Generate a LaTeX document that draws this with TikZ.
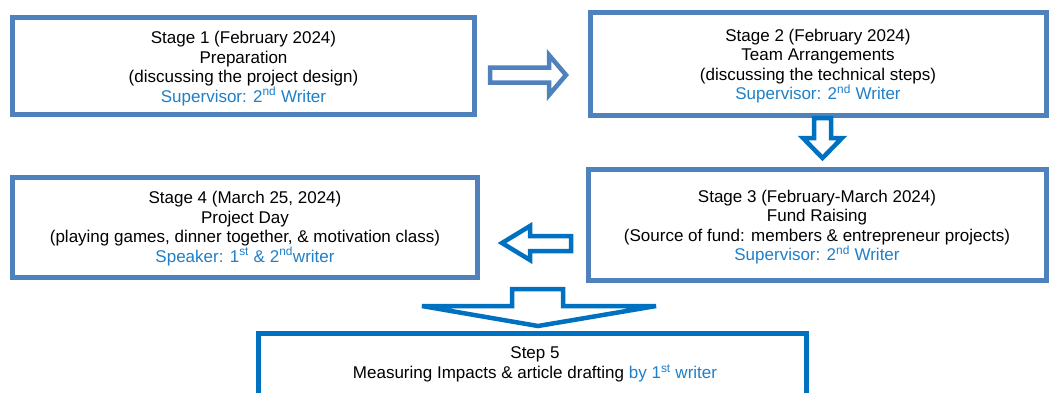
\documentclass[tikz,border=0pt]{standalone}
\usepackage{fontspec}
\setmainfont{Liberation Sans}
\definecolor{boxblue}{HTML}{4F81BD}
\definecolor{brightblue}{HTML}{0070C0}
\definecolor{txtblue}{HTML}{1F7FC8}
\tikzset{
  stagebox/.style={draw=boxblue, line width=5pt, fill=white, inner sep=0pt},
  boxtext/.style={align=center, inner sep=0pt, font=\fontsize{17}{19.5}\selectfont},
  stepbox/.style={draw=brightblue, line width=5pt, fill=white, inner sep=0pt},
  blockarrowlight/.style={draw=boxblue, line width=4.5pt, fill=white, line join=miter},
  blockarrow/.style={draw=brightblue, line width=4.5pt, fill=white, line join=miter},
}
\newcommand{\sv}[1]{\textcolor{txtblue}{#1}}
\begin{document}
\begin{tikzpicture}[x=1pt,y=-1pt]
\useasboundingbox (0,0) rectangle (1049,392);
\fill[white] (0,0) rectangle (1049,392);
\node[stagebox, minimum width=462pt, minimum height=97pt] (s1) at (243.5,66) {};
\node[boxtext] (s1t) at ([yshift=-2.5pt]s1.center)
  {Stage 1 (February 2024)\\Preparation\\(discussing the project design)\\\sv{Supervisor: 2\textsuperscript{nd} Writer}};
\node[stagebox, minimum width=456pt, minimum height=103pt] (s2) at (818,63.5) {};
\node[boxtext] (s2t) at ([yshift=-2.5pt]s2.center)
  {Stage 2 (February 2024)\\Team Arrangements\\(discussing the technical steps)\\\sv{Supervisor: 2\textsuperscript{nd} Writer}};
\node[stagebox, minimum width=458pt, minimum height=111pt] (s3) at (817,224.5) {};
\node[boxtext] (s3t) at ([yshift=-2.5pt]s3.center)
  {Stage 3 (February-March 2024)\\Fund Raising\\(Source of fund: members \& entrepreneur projects)\\\sv{Supervisor: 2\textsuperscript{nd} Writer}};
\node[stagebox, minimum width=465pt, minimum height=100pt] (s4) at (245,227) {};
\node[boxtext] (s4t) at ([yshift=-1.5pt]s4.center)
  {Stage 4 (March 25, 2024)\\Project Day\\(playing games, dinner together, \& motivation class)\\\sv{Speaker: 1\textsuperscript{st} \& 2\textsuperscript{nd}writer}};
\node[stepbox, minimum width=548pt, minimum height=66pt] (s5) at (532,366) {};
\node[align=center, inner sep=0pt, font=\fontsize{17}{20.5}\selectfont] (s5t) at (535,364.5)
  {Step 5\\Measuring Impacts \& article drafting \sv{by 1\textsuperscript{st} writer}};
% block arrows
\draw[blockarrowlight] (490,67.5) -- (549,67.5) -- (549,55) -- (566,75) -- (549,95) -- (549,82.5) -- (490,82.5) -- cycle;
\draw[blockarrow] (814,118) -- (831,118) -- (831,138) -- (842,138) -- (822.5,158) -- (803,138) -- (814,138) -- cycle;
\draw[blockarrow] (571,236) -- (530,236) -- (530,226) -- (502,243) -- (530,260) -- (530,251) -- (571,251) -- cycle;
\draw[blockarrow] (512,289) -- (563,289) -- (563,306) -- (656,306) -- (538,326) -- (422,306) -- (512,306) -- cycle;
\end{tikzpicture}
\end{document}
